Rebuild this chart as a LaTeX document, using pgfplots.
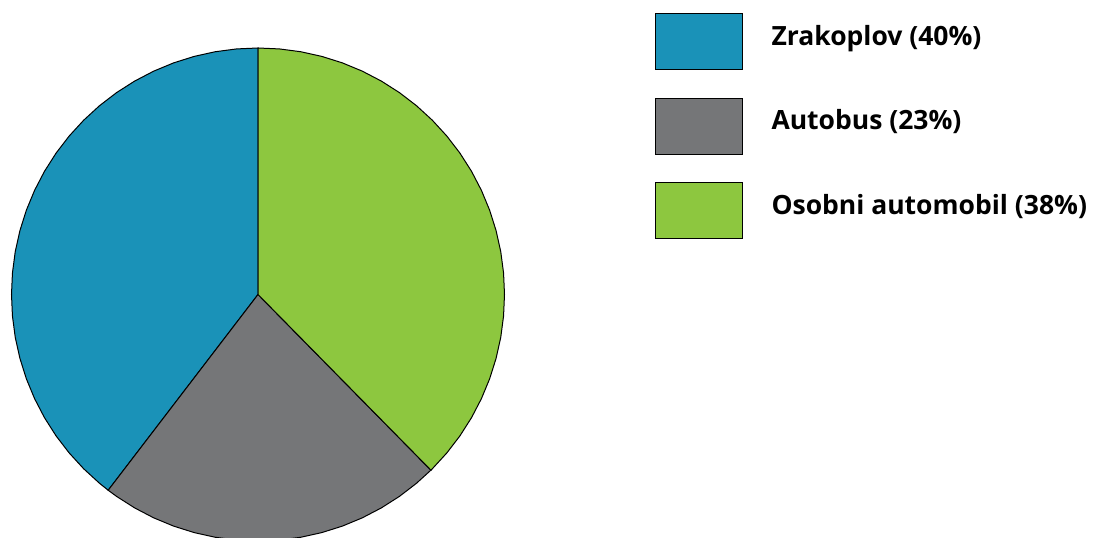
\documentclass[border=0pt]{standalone}
\usepackage{pgfplots}
\pgfplotsset{compat=1.18}
\usepackage{fontspec}
\setmainfont{Open Sans}
\definecolor{pieblue}{HTML}{1A92B8}
\definecolor{piegray}{HTML}{757678}
\definecolor{piegreen}{HTML}{8DC73F}
\begin{document}
\begin{tikzpicture}[x=1pt,y=1pt]
\useasboundingbox (0,0) rectangle (1093,538);
% shares: 40, 23, 38 (of 101) -> boundaries at 90, 232.57, 314.55, 450 degrees
\begin{axis}[
  at={(11.5pt,-3pt)}, anchor=south west,
  scale only axis, width=493pt, height=493pt,
  xmin=-1, xmax=1, ymin=-1, ymax=1,
  hide axis, clip=false,
  legend image code/.code={\draw[#1, draw=black, line width=1pt] (0pt,-33.5pt) rectangle (87pt,22.5pt);},
  legend style={at={(1.3053,1.0710)}, anchor=north west, draw=none, fill=none,
    inner sep=0pt, outer sep=0pt, row sep=27.6pt,
    font=\bfseries\fontsize{26.5}{30}\selectfont,
    nodes={inner sep=0pt},
    /tikz/every odd column/.append style={column sep=28.5pt}},
  legend cell align=left,
]
\addplot[fill=pieblue, draw=black, line width=1pt, data cs=polar] coordinates {
(0,0) (90,1) (95,1) (100,1) (105,1) (110,1) (115,1) (120,1) (125,1) (130,1) (135,1)
(140,1) (145,1) (150,1) (155,1) (160,1) (165,1) (170,1) (175,1) (180,1) (185,1)
(190,1) (195,1) (200,1) (205,1) (210,1) (215,1) (220,1) (225,1) (230,1) (232.57,1) (0,0)};
\addlegendentry{Zrakoplov (40\%)}
\addplot[fill=piegray, draw=black, line width=1pt, data cs=polar] coordinates {
(0,0) (232.57,1) (235,1) (240,1) (245,1) (250,1) (255,1) (260,1) (265,1) (270,1)
(275,1) (280,1) (285,1) (290,1) (295,1) (300,1) (305,1) (310,1) (314.55,1) (0,0)};
\addlegendentry{Autobus (23\%)}
\addplot[fill=piegreen, draw=black, line width=1pt, data cs=polar] coordinates {
(0,0) (314.55,1) (315,1) (320,1) (325,1) (330,1) (335,1) (340,1) (345,1) (350,1)
(355,1) (360,1) (365,1) (370,1) (375,1) (380,1) (385,1) (390,1) (395,1) (400,1)
(405,1) (410,1) (415,1) (420,1) (425,1) (430,1) (435,1) (440,1) (445,1) (450,1) (0,0)};
\addlegendentry{Osobni automobil (38\%)}
\end{axis}
\end{tikzpicture}
\end{document}
